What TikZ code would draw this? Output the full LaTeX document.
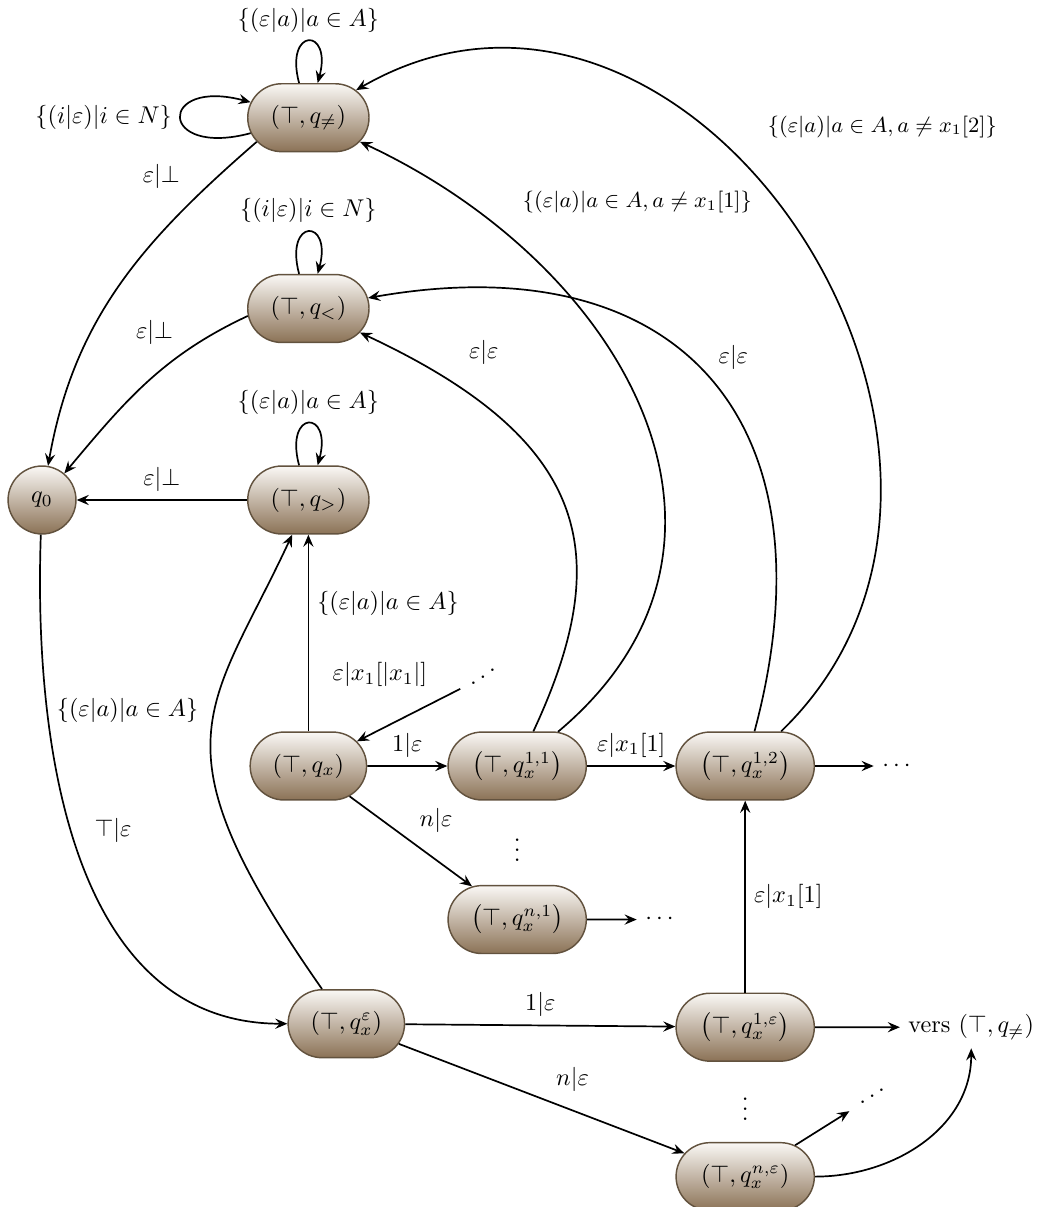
\documentclass[tikz,border=0pt]{standalone}
\usepackage{amsmath,amssymb}
\usepackage{xcolor}
\usepackage{tikz}
\usetikzlibrary{shapes.misc, arrows.meta, positioning, calc}

\definecolor{stateTop}{RGB}{250,248,245}
\definecolor{stateBottom}{RGB}{139,114,86}
\definecolor{stateEdge}{RGB}{98,82,62}

\newcommand{\risingdots}{\mathinner{\mkern1mu\raise0.5pt\hbox{.}\mkern2mu\raise3pt\hbox{.}\mkern2mu\raise5.5pt\hbox{.}\mkern1mu}}
% state text, centred on the node without widening it
\newcommand{\st}[1]{\makebox[0pt]{$#1$}}

\begin{document}
\begin{tikzpicture}[
    >={Stealth[length=5pt, width=4.2pt, inset=1.8pt]},
    state/.style={rounded rectangle, draw=stateEdge, line width=0.6pt, top color=stateTop, bottom color=stateBottom, minimum height=28pt, minimum width=50pt, inner sep=0pt},
    widestate/.style={state, minimum width=57pt},
    init/.style={circle, draw=stateEdge, line width=0.6pt, top color=stateTop, bottom color=stateBottom, minimum size=28pt, inner sep=0pt},
    arrow/.style={->, line width=0.7pt},
    every loop/.style={},
    biglabel/.style={font=\small}
]
\useasboundingbox (-0.609,-10.246) rectangle (14.464,7.246);

% States, left column
\node[init] (q0) at (0,0) {$q_0$};
\node[state] (qgt) at (3.86,0) {\st{(\top,q_{>})}};
\node[state, above=1.77cm of qgt] (qlt) {\st{(\top,q_{<})}};
\node[state, above=1.76cm of qlt] (qneq) {\st{(\top,q_{\neq})}};
\node[state, minimum width=48pt, below=2.85cm of qgt] (qx) {\st{(\top,q_x)}};
\node[state, minimum width=48pt] (qeps) at (4.41,-7.59) {\st{(\top,q_x^{\varepsilon})}};

% States reading x_1
\node[widestate, right=1.16cm of qx] (q11) {\st{\left(\top,q_x^{1,1}\right)}};
\node[widestate, right=1.28cm of q11] (q12) {\st{\left(\top,q_x^{1,2}\right)}};
\node[widestate, below=1.22cm of q11] (qn1) {\st{\left(\top,q_x^{n,1}\right)}};
\node[widestate, below=2.78cm of q12] (q1eps) {\st{\left(\top,q_x^{1,\varepsilon}\right)}};
\node[widestate, below=1.16cm of q1eps] (qneps) {\st{\left(\top,q_x^{n,\varepsilon}\right)}};

% Dots and exit
\node[right=0.85cm of q12] (dotsR) {$\cdots$};
\node[right=0.72cm of qn1] (dotsN) {$\cdots$};
\node (dotsA) at (6.39,-2.57) {$\risingdots$};
\node (dotsE) at (12.03,-8.65) {$\risingdots$};
\node (vd1) at ($(q11)!0.5!(qn1)$) {$\vdots$};
\node (vd2) at ($(q1eps)!0.5!(qneps)$) {$\vdots$};
\node[right=1.23cm of q1eps] (vers) {vers $(\top,q_{\neq})$};

% Loops
\draw[arrow] (qneq) to[loop above] node[above] {$\{(\varepsilon|a)|a\in A\}$} (qneq);
\draw[arrow] (qneq) to[loop left] node[left] {$\{(i|\varepsilon)|i\in N\}$} (qneq);
\draw[arrow] (qlt) to[loop above] node[above] {$\{(i|\varepsilon)|i\in N\}$} (qlt);
\draw[arrow] (qgt) to[loop above] node[above] {$\{(\varepsilon|a)|a\in A\}$} (qgt);

% Back to q0
\draw[arrow] (qneq.205) to[out=221, in=80] node[pos=0.12, left=12pt] {$\varepsilon|\bot$} (q0);
\draw[arrow] (qlt.187) to[out=205, in=50] node[pos=0.3, above left] {$\varepsilon|\bot$} (q0);
\draw[arrow] (qgt) -- node[above] {$\varepsilon|\bot$} (q0);

% From q0 and towards (T,q_>)
\draw[arrow] (q0) to[out=-92, in=180] node[pos=0.45, right=6pt] {$\top|\varepsilon$} (qeps);
\draw[arrow] (qeps) to[out=125, in=-115, out looseness=1.7, in looseness=1.1] node[pos=0.57, left=3pt] {$\{(\varepsilon|a)|a\in A\}$} (qgt);
\draw[arrow] (qx) -- node[pos=0.65, right] {$\{(\varepsilon|a)|a\in A\}$} (qgt);

% Reading x_1
\draw[arrow] (dotsA) -- node[pos=0.2, above left=2pt] {$\varepsilon|x_1[|x_1|]$} (qx);
\draw[arrow] (qx) -- node[above] {$1|\varepsilon$} (q11);
\draw[arrow] (qx) -- node[pos=0.5, above right] {$n|\varepsilon$} (qn1);
\draw[arrow] (q11) -- node[above] {$\varepsilon|x_1[1]$} (q12);
\draw[arrow] (q12) -- (dotsR);
\draw[arrow] (qn1) -- (dotsN);

% Long arcs back up
\draw[arrow] (q11) to[out=65, in=-25, out looseness=1.15, in looseness=1.5] node[pos=0.78, above=13pt] {$\varepsilon|\varepsilon$} (qlt);
\draw[arrow] (q11) to[out=40, in=-25, looseness=1.2] node[pos=0.8, above right=6pt, biglabel] {$\{(\varepsilon|a)|a\in A, a\neq x_1[1]\}$} (qneq);
\draw[arrow] (q12) to[out=75, in=10, looseness=1.4] node[pos=0.5, above right] {$\varepsilon|\varepsilon$} (qlt);
\draw[arrow] (q12) to[out=44, in=30, looseness=1.3] node[pos=0.6, above right=4pt, xshift=8pt, biglabel] {$\{(\varepsilon|a)|a\in A, a\neq x_1[2]\}$} (qneq);

% Bottom row
\draw[arrow] (qeps) -- node[above] {$1|\varepsilon$} (q1eps);
\draw[arrow] (qeps) -- node[pos=0.52, above right] {$n|\varepsilon$} (qneps);
\draw[arrow] (q1eps) -- node[right] {$\varepsilon|x_1[1]$} (q12);
\draw[arrow] (q1eps) -- (vers);
\draw[arrow] (qneps) -- (dotsE);
\draw[arrow] (qneps) to[out=0, in=-90] (vers);

\end{tikzpicture}
\end{document}
